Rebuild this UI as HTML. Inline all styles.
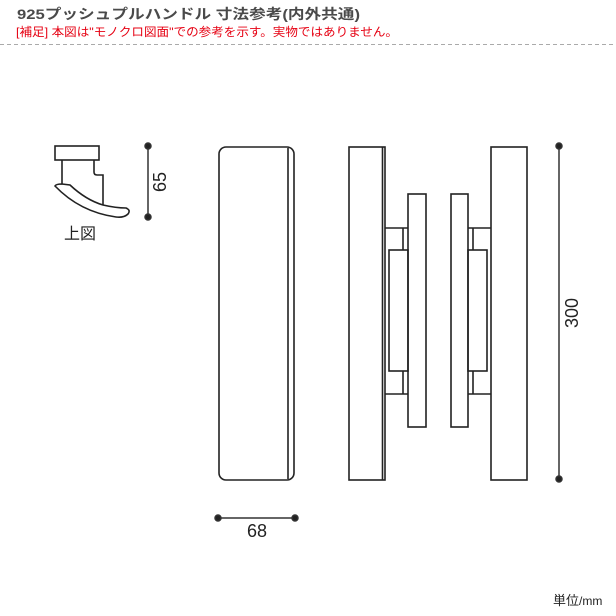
<!DOCTYPE html>
<html><head><meta charset="utf-8"><style>
html,body{margin:0;padding:0;background:#fff;width:616px;height:616px;overflow:hidden}
svg{display:block}
</style></head><body>
<svg width="616" height="616" viewBox="0 0 616 616" xmlns="http://www.w3.org/2000/svg" font-family="'Liberation Sans','Noto Sans CJK JP',sans-serif">
<text x="17" y="19" font-size="14" font-weight="bold" fill="#4a4a4a" textLength="343" lengthAdjust="spacingAndGlyphs">925プッシュプルハンドル 寸法参考(内外共通)</text>
<text x="16" y="36" font-size="12" fill="#e60012" textLength="382" lengthAdjust="spacingAndGlyphs">[補足] 本図は"モノクロ図面"での参考を示す。実物ではありません。</text>
<line x1="0" y1="44.5" x2="616" y2="44.5" stroke="#aaa" stroke-width="1" stroke-dasharray="4,3"/>
<g fill="none" stroke="#222" stroke-width="1.6">
<!-- top view -->
<rect x="55" y="146" width="44" height="14"/>
<path d="M62 160 V184"/>
<path d="M94 160 V172 Q94 175 97 175 H103 V205"/>
<path d="M55 186 Q56 184 62 184 L70 185 Q86 200 103 205 Q116 208 126 208 Q131 210 128 214 Q124 218 116 217 Q80 212 55 186 Z"/>
<!-- front plate -->
<rect x="219" y="147" width="75" height="333" rx="7"/>
<line x1="288" y1="148" x2="288" y2="479"/>
<!-- left side view -->
<rect x="349" y="147" width="36" height="333"/>
<line x1="382.5" y1="147" x2="382.5" y2="480"/>
<rect x="408" y="194" width="18" height="233"/>
<path d="M385 228 H408 M385 394 H408 M403 228 V250 M403 371 V394"/>
<rect x="389" y="250" width="19" height="121"/>
<!-- right side view -->
<rect x="491" y="147" width="36" height="333"/>
<rect x="451" y="194" width="17" height="233"/>
<path d="M468 228 H491 M468 394 H491 M473 228 V250 M473 371 V394"/>
<rect x="468" y="250" width="19" height="121"/>
</g>
<g stroke="#333" stroke-width="1.5" fill="#222">
<line x1="148" y1="146" x2="148" y2="217"/>
<circle cx="148" cy="146" r="3"/><circle cx="148" cy="217" r="3"/>
<line x1="218" y1="518" x2="295" y2="518"/>
<circle cx="218" cy="518" r="3"/><circle cx="295" cy="518" r="3"/>
<line x1="559" y1="146" x2="559" y2="479"/>
<circle cx="559" cy="146" r="3"/><circle cx="559" cy="479" r="3"/>
</g>
<g fill="#222" font-size="18">
<text x="257" y="537" text-anchor="middle">68</text>
<text transform="translate(166,182) rotate(-90)" text-anchor="middle">65</text>
<text transform="translate(578,313) rotate(-90)" text-anchor="middle">300</text>
<text x="64" y="239" font-size="16">上図</text>
</g>
<text x="553" y="605" font-size="13" fill="#222">単位<tspan font-size="12">/mm</tspan></text>
</svg>
</body></html>
